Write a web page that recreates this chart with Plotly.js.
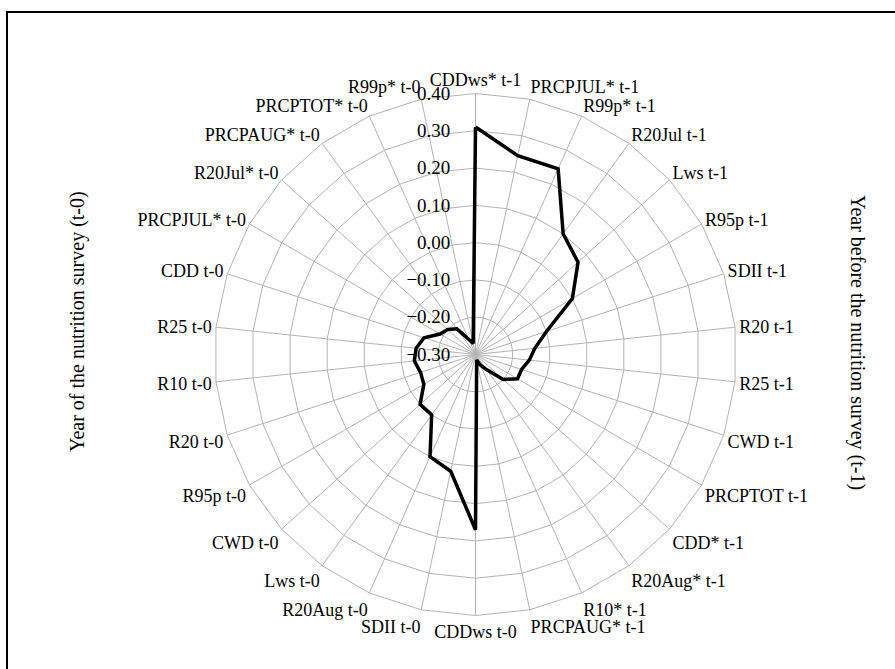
<!DOCTYPE html>
<html>
<head>
<meta charset="utf-8">
<script src="https://cdn.plot.ly/plotly-3.0.1.min.js"></script>
<style>
  html, body { margin: 0; padding: 0; background: #fff; }
  #wrap { position: relative; width: 895px; height: 669px; overflow: hidden; }
  #chart { position: absolute; left: 0; top: 0; width: 895px; height: 669px; }
  #frame { position: absolute; left: 6px; top: 11px; width: 900px; height: 680px;
           border: 2px solid #000; pointer-events: none; box-sizing: border-box; }
</style>
</head>
<body>
<div id="wrap">
  <div id="chart"></div>
  <div id="frame"></div>
</div>
<script>
const categories = ["CDDws* t-1","PRCPJUL* t-1","R99p* t-1","R20Jul t-1","Lws t-1","R95p t-1",
  "SDII t-1","R20 t-1","R25 t-1","CWD t-1","PRCPTOT t-1","CDD* t-1","R20Aug* t-1","R10* t-1",
  "PRCPAUG* t-1","CDDws t-0","SDII t-0","R20Aug t-0","Lws t-0","CWD t-0","R95p t-0","R20 t-0",
  "R10 t-0","R25 t-0","CDD t-0","PRCPJUL* t-0","R20Jul* t-0","PRCPAUG* t-0","PRCPTOT* t-0","R99p* t-0"];
const values = [0.31, 0.245, 0.245, 0.10, 0.07, 0.00, -0.10, -0.14, -0.155, -0.17, -0.17, -0.20,
  -0.25, -0.27, -0.285, 0.17, 0.02, 0.00, -0.10, -0.10, -0.14, -0.145, -0.135, -0.14, -0.155,
  -0.19, -0.20, -0.215, -0.255, -0.27];
const radialTicks = [-0.30, -0.20, -0.10, 0.00, 0.10, 0.20, 0.30, 0.40];
const leftTitle = "Year of the nutrition survey (t-0)";
const rightTitle = "Year before the nutrition survey (t-1)";

const theta = categories.concat([categories[0]]);
const r = values.concat([values[0]]);

const FONT = "Liberation Serif, Times New Roman, serif";
const W = 895, H = 669;
const cx = 475.5, cy = 354.5, R = 261;

const trace = {
  type: 'scatterpolar', mode: 'lines', theta: theta, r: r,
  line: { color: '#000', width: 3.5 }, hoverinfo: 'skip', showlegend: false
};

const layout = {
  width: W, height: H,
  margin: { l: 0, r: 0, t: 0, b: 0 },
  paper_bgcolor: '#fff', plot_bgcolor: '#fff',
  showlegend: false,
  font: { family: FONT, size: 18, color: '#000' },
  polar: {
    domain: { x: [(cx - R) / W, (cx + R) / W], y: [(H - cy - R) / H, (H - cy + R) / H] },
    gridshape: 'linear',
    bgcolor: '#fff',
    angularaxis: {
      type: 'category', categoryorder: 'array', categoryarray: categories,
      direction: 'clockwise', rotation: 90,
      showline: true, linecolor: '#b3b3b3', linewidth: 1,
      gridcolor: '#b3b3b3', gridwidth: 1,
      ticks: '', tickfont: { family: FONT, size: 18, color: '#000' }
    },
    radialaxis: {
      range: [-0.30, 0.40], angle: 90, tickangle: 90, side: 'counterclockwise',
      tickmode: 'array', tickvals: radialTicks, tickformat: '.2f',
      showline: false, ticks: 'outside', ticklen: 18, tickcolor: 'rgba(0,0,0,0)',
      gridcolor: '#b3b3b3', gridwidth: 1,
      tickfont: { family: FONT, size: 19, color: '#000' }
    }
  },
  annotations: [
    { text: leftTitle, xref: 'paper', yref: 'paper', x: 77 / W, y: 1 - 322 / H,
      xanchor: 'center', yanchor: 'middle',
      showarrow: false, textangle: -90, font: { family: FONT, size: 20, color: '#000' } },
    { text: rightTitle, xref: 'paper', yref: 'paper', x: 858 / W, y: 1 - 342 / H,
      xanchor: 'center', yanchor: 'middle',
      showarrow: false, textangle: 90, font: { family: FONT, size: 20, color: '#000' } }
  ]
};

Plotly.newPlot('chart', [trace], layout, { displayModeBar: false, staticPlot: true });
</script>
</body>
</html>
